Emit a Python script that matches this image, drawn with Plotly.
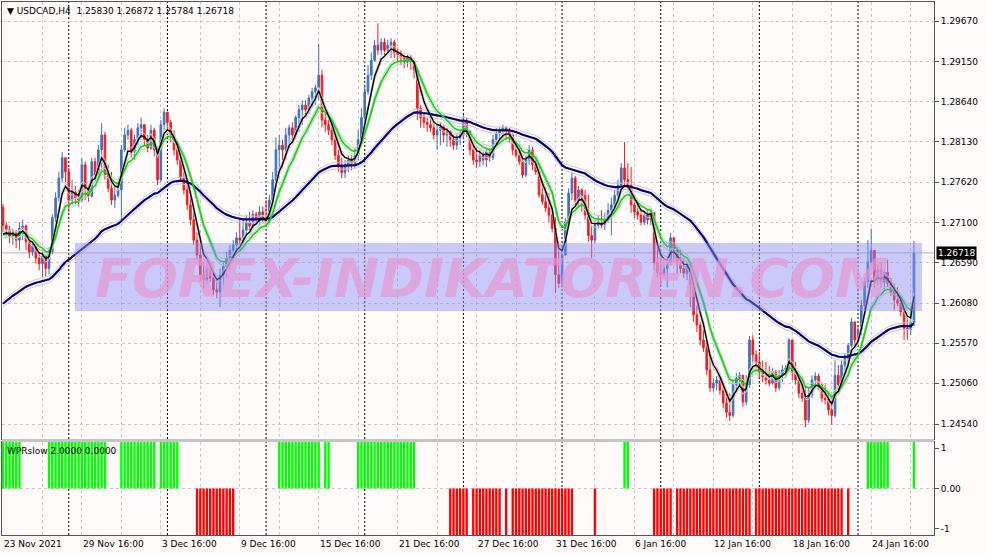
import plotly.graph_objects as go

# ---------------- data (USDCAD H4) ----------------
OPEN_FIRST = 1.2730
CLOSE = [
    1.2707, 1.2701, 1.2693, 1.2698, 1.2688, 1.2703, 1.2706, 1.2686, 1.2673, 1.2680,
    1.2665, 1.2658, 1.2668, 1.2652, 1.2673, 1.2717, 1.2742, 1.2767, 1.2793, 1.2775,
    1.2739, 1.2749, 1.2742, 1.2739, 1.2784, 1.2754, 1.2744, 1.2788, 1.2771, 1.2803,
    1.2822, 1.2771, 1.2754, 1.2739, 1.2745, 1.2752, 1.2803, 1.2822, 1.2828, 1.2800,
    1.2816, 1.2831, 1.2835, 1.2816, 1.2805, 1.2828, 1.2803, 1.2765, 1.2835, 1.2851,
    1.2838, 1.2822, 1.2803, 1.2790, 1.2767, 1.2752, 1.2733, 1.2714, 1.2688, 1.2669,
    1.2644, 1.2637, 1.2652, 1.2640, 1.2625, 1.2622, 1.2644, 1.2655, 1.2665, 1.2675,
    1.2682, 1.2691, 1.2688, 1.2701, 1.2711, 1.2706, 1.2721, 1.2714, 1.2724, 1.2716,
    1.2711, 1.2739, 1.2765, 1.2803, 1.2809, 1.2803, 1.2822, 1.2831, 1.2822, 1.2844,
    1.2854, 1.2860, 1.2854, 1.2869, 1.2877, 1.2882, 1.2898, 1.2841, 1.2835, 1.2828,
    1.2816, 1.2796, 1.2784, 1.2774, 1.2784, 1.2790, 1.2786, 1.2796, 1.2816, 1.2844,
    1.2877, 1.2898, 1.2917, 1.2936, 1.2930, 1.2940, 1.2930, 1.2936, 1.2940, 1.2927,
    1.2924, 1.2920, 1.2915, 1.2921, 1.2915, 1.2905, 1.2856, 1.2844, 1.2838, 1.2835,
    1.2831, 1.2822, 1.2828, 1.2832, 1.2822, 1.2826, 1.2816, 1.2809, 1.2818, 1.2822,
    1.2841, 1.2826, 1.2803, 1.2790, 1.2788, 1.2796, 1.2790, 1.2800, 1.2793, 1.2816,
    1.2824, 1.2828, 1.2831, 1.2828, 1.2822, 1.2803, 1.2796, 1.2788, 1.2771, 1.2790,
    1.2803, 1.2784, 1.2775, 1.2746, 1.2737, 1.2729, 1.2720, 1.2703, 1.2644, 1.2633,
    1.2669, 1.2711, 1.2748, 1.2767, 1.2739, 1.2752, 1.2745, 1.2720, 1.2694, 1.2688,
    1.2707, 1.2711, 1.2707, 1.2714, 1.2726, 1.2733, 1.2745, 1.2758, 1.2780, 1.2765,
    1.2758, 1.2733, 1.2724, 1.2720, 1.2711, 1.2720, 1.2714, 1.2723, 1.2660, 1.2647,
    1.2644, 1.2652, 1.2660, 1.2691, 1.2675, 1.2660, 1.2652, 1.2646, 1.2656, 1.2631,
    1.2593, 1.2580, 1.2561, 1.2551, 1.2523, 1.2500, 1.2506, 1.2510, 1.2497, 1.2481,
    1.2469, 1.2465, 1.2504, 1.2512, 1.2516, 1.2482, 1.2504, 1.2561, 1.2542, 1.2533,
    1.2520, 1.2514, 1.2510, 1.2506, 1.2520, 1.2500, 1.2516, 1.2523, 1.2525, 1.2561,
    1.2520, 1.2510, 1.2493, 1.2487, 1.2459, 1.2491, 1.2510, 1.2515, 1.2504, 1.2487,
    1.2485, 1.2472, 1.2465, 1.2516, 1.2504, 1.2529, 1.2538, 1.2554, 1.2584, 1.2561,
    1.2574, 1.2605, 1.2635, 1.2660, 1.2675, 1.2635, 1.2650, 1.2635, 1.2647, 1.2633,
    1.2622, 1.2612, 1.2608, 1.2597, 1.2576, 1.2574, 1.2584, 1.26718,
]
HIGH = [
    1.2734, 1.2711, 1.2706, 1.2703, 1.2701, 1.2711, 1.2714, 1.2708, 1.2688, 1.2684,
    1.2683, 1.2673, 1.2675, 1.2670, 1.2679, 1.2721, 1.2749, 1.2775, 1.2800, 1.2790,
    1.2780, 1.2765, 1.2757, 1.2752, 1.2793, 1.2788, 1.2758, 1.2793, 1.2793, 1.2809,
    1.2837, 1.2826, 1.2784, 1.2775, 1.2758, 1.2760, 1.2809, 1.2831, 1.2835, 1.2831,
    1.2822, 1.2837, 1.2844, 1.2836, 1.2822, 1.2835, 1.2831, 1.2805, 1.2841, 1.2856,
    1.2851, 1.2841, 1.2828, 1.2809, 1.2800, 1.2775, 1.2762, 1.2752, 1.2726, 1.2698,
    1.2688, 1.2660, 1.2660, 1.2660, 1.2650, 1.2637, 1.2652, 1.2660, 1.2673, 1.2682,
    1.2688, 1.2698, 1.2716, 1.2716, 1.2720, 1.2724, 1.2726, 1.2724, 1.2731, 1.2731,
    1.2739, 1.2746, 1.2775, 1.2819, 1.2822, 1.2816, 1.2831, 1.2835, 1.2838, 1.2847,
    1.2860, 1.2866, 1.2866, 1.2873, 1.2882, 1.2886, 1.2938, 1.2905, 1.2851, 1.2847,
    1.2838, 1.2822, 1.2803, 1.2793, 1.2790, 1.2796, 1.2796, 1.2805, 1.2828, 1.2856,
    1.2886, 1.2911, 1.2927, 1.2943, 1.2964, 1.2945, 1.2945, 1.2943, 1.2945, 1.2943,
    1.2933, 1.2930, 1.2924, 1.2924, 1.2924, 1.2917, 1.2907, 1.2860, 1.2851, 1.2844,
    1.2850, 1.2838, 1.2835, 1.2838, 1.2835, 1.2831, 1.2828, 1.2822, 1.2823, 1.2828,
    1.2847, 1.2844, 1.2828, 1.2809, 1.2805, 1.2803, 1.2800, 1.2805, 1.2805, 1.2822,
    1.2831, 1.2832, 1.2835, 1.2833, 1.2831, 1.2824, 1.2809, 1.2803, 1.2794, 1.2796,
    1.2809, 1.2807, 1.2794, 1.2786, 1.2765, 1.2756, 1.2748, 1.2730, 1.2717, 1.2678,
    1.2682, 1.2716, 1.2754, 1.2775, 1.2770, 1.2757, 1.2754, 1.2752, 1.2746, 1.2707,
    1.2714, 1.2720, 1.2726, 1.2723, 1.2735, 1.2742, 1.2752, 1.2765, 1.2786, 1.2813,
    1.2786, 1.2781, 1.2746, 1.2735, 1.2726, 1.2726, 1.2726, 1.2726, 1.2724, 1.2679,
    1.2669, 1.2660, 1.2666, 1.2697, 1.2691, 1.2679, 1.2675, 1.2665, 1.2660, 1.2656,
    1.2635, 1.2605, 1.2584, 1.2574, 1.2561, 1.2546, 1.2512, 1.2515, 1.2512, 1.2504,
    1.2497, 1.2493, 1.2510, 1.2519, 1.2520, 1.2516, 1.2516, 1.2566, 1.2567, 1.2548,
    1.2546, 1.2535, 1.2533, 1.2528, 1.2525, 1.2523, 1.2523, 1.2529, 1.2529, 1.2563,
    1.2561, 1.2533, 1.2516, 1.2506, 1.2501, 1.2500, 1.2516, 1.2520, 1.2518, 1.2507,
    1.2504, 1.2493, 1.2485, 1.2535, 1.2529, 1.2535, 1.2544, 1.2557, 1.2589, 1.2584,
    1.2580, 1.2612, 1.2640, 1.2688, 1.2703, 1.2675, 1.2656, 1.2660, 1.2652, 1.2663,
    1.2640, 1.2633, 1.2628, 1.2614, 1.2599, 1.2589, 1.2602, 1.26872,
]
LOW = [
    1.2698, 1.2693, 1.2684, 1.2682, 1.2678, 1.2675, 1.2688, 1.2675, 1.2665, 1.2668,
    1.2658, 1.2650, 1.2641, 1.2642, 1.2645, 1.2670, 1.2711, 1.2737, 1.2762, 1.2762,
    1.2724, 1.2733, 1.2734, 1.2731, 1.2737, 1.2739, 1.2737, 1.2742, 1.2765, 1.2765,
    1.2777, 1.2765, 1.2749, 1.2733, 1.2729, 1.2742, 1.2711, 1.2800, 1.2816, 1.2793,
    1.2790, 1.2809, 1.2818, 1.2808, 1.2800, 1.2803, 1.2795, 1.2758, 1.2762, 1.2828,
    1.2828, 1.2813, 1.2796, 1.2784, 1.2762, 1.2746, 1.2726, 1.2707, 1.2682, 1.2663,
    1.2635, 1.2627, 1.2632, 1.2635, 1.2618, 1.2614, 1.2603, 1.2631, 1.2640, 1.2650,
    1.2660, 1.2673, 1.2682, 1.2686, 1.2694, 1.2701, 1.2703, 1.2708, 1.2708, 1.2711,
    1.2707, 1.2711, 1.2733, 1.2762, 1.2775, 1.2780, 1.2790, 1.2805, 1.2816, 1.2816,
    1.2826, 1.2835, 1.2847, 1.2849, 1.2856, 1.2860, 1.2866, 1.2832, 1.2826, 1.2822,
    1.2809, 1.2790, 1.2775, 1.2767, 1.2767, 1.2775, 1.2777, 1.2780, 1.2790, 1.2809,
    1.2838, 1.2873, 1.2892, 1.2915, 1.2924, 1.2924, 1.2924, 1.2926, 1.2920, 1.2920,
    1.2914, 1.2911, 1.2907, 1.2908, 1.2905, 1.2894, 1.2841, 1.2831, 1.2831, 1.2826,
    1.2826, 1.2816, 1.2803, 1.2809, 1.2812, 1.2807, 1.2807, 1.2803, 1.2803, 1.2809,
    1.2816, 1.2819, 1.2796, 1.2784, 1.2780, 1.2781, 1.2784, 1.2781, 1.2788, 1.2790,
    1.2809, 1.2816, 1.2818, 1.2816, 1.2812, 1.2796, 1.2793, 1.2784, 1.2767, 1.2768,
    1.2784, 1.2777, 1.2771, 1.2742, 1.2733, 1.2724, 1.2711, 1.2698, 1.2621, 1.2627,
    1.2628, 1.2669, 1.2707, 1.2739, 1.2733, 1.2730, 1.2724, 1.2714, 1.2686, 1.2665,
    1.2684, 1.2703, 1.2703, 1.2701, 1.2711, 1.2694, 1.2726, 1.2742, 1.2752, 1.2758,
    1.2752, 1.2723, 1.2716, 1.2714, 1.2707, 1.2707, 1.2708, 1.2707, 1.2650, 1.2640,
    1.2631, 1.2640, 1.2628, 1.2656, 1.2660, 1.2646, 1.2646, 1.2640, 1.2637, 1.2603,
    1.2584, 1.2571, 1.2554, 1.2546, 1.2516, 1.2495, 1.2495, 1.2497, 1.2491, 1.2474,
    1.2462, 1.2458, 1.2462, 1.2495, 1.2504, 1.2476, 1.2478, 1.2500, 1.2533, 1.2525,
    1.2512, 1.2507, 1.2504, 1.2502, 1.2504, 1.2495, 1.2497, 1.2507, 1.2513, 1.2520,
    1.2510, 1.2504, 1.2487, 1.2482, 1.2450, 1.2455, 1.2487, 1.2500, 1.2497, 1.2482,
    1.2479, 1.2465, 1.2453, 1.2462, 1.2497, 1.2500, 1.2523, 1.2526, 1.2551, 1.2554,
    1.2554, 1.2567, 1.2596, 1.2627, 1.2656, 1.2627, 1.2630, 1.2627, 1.2625, 1.2628,
    1.2617, 1.2599, 1.2604, 1.2591, 1.2561, 1.2561, 1.2567, 1.25784,
]
LAST_OPEN = 1.25830
LAST_CLOSE = 1.26718

PRICE_TICKS = [1.24540, 1.25060, 1.25570, 1.26080, 1.26590, 1.27100,
               1.27620, 1.28130, 1.28640, 1.29150, 1.29670]
DATE_LABELS = ["23 Nov 2021", "29 Nov 16:00", "3 Dec 16:00", "9 Dec 16:00",
               "15 Dec 16:00", "21 Dec 16:00", "27 Dec 16:00", "31 Dec 16:00",
               "6 Jan 16:00", "12 Jan 16:00", "18 Jan 16:00", "24 Jan 16:00"]
BARS_PER_LABEL = 24
BARS_PER_GRID = 12
WEEK_STARTS = [20, 50, 80, 110, 140, 170, 200, 230, 260]

# WPRslow histogram state runs: (first bar, last bar, value)
WPR_RUNS = [(0, 5, 1), (14, 31, 1), (36, 46, 1), (48, 53, 1), (59, 70, -1),
            (84, 96, 1), (98, 99, 1), (108, 125, 1), (136, 141, -1), (143, 151, -1),
            (153, 153, -1), (155, 173, -1), (180, 180, -1), (189, 190, 1),
            (198, 203, -1), (205, 227, -1), (229, 255, -1), (257, 257, -1),
            (263, 269, 1), (277, 277, 1)]
WPR_TICKS = ["1", "0.00", "-1"]

MA_PERIODS = {"fast": 5, "mid": 10, "slow": 50}
MA_SEEDS = {"fast": 1.2690, "mid": 1.2692, "slow": 1.2603}

# ---------------- derived ----------------
n = len(CLOSE)
idx = list(range(n))
OPEN = [OPEN_FIRST] + CLOSE[:-1]
OPEN[-1] = LAST_OPEN


def ema(values, period, seed):
    a = 2.0 / (period + 1)
    e = seed
    out = []
    for v in values:
        e = e + a * (v - e)
        out.append(e)
    return out


wpr = [0] * n
for a, b, v in WPR_RUNS:
    for i in range(a, b + 1):
        wpr[i] = v
wpr_colors = ["#00ff00" if v > 0 else "#ff0000" for v in wpr]

BG = "#fffbfa"
BLUE = "#3f70c2"
RED = "#f41c1c"
FONT = "DejaVu Sans"

fig = go.Figure()

fig.add_trace(go.Candlestick(
    x=idx, open=OPEN, high=HIGH, low=LOW, close=CLOSE,
    increasing=dict(line=dict(color=BLUE, width=1), fillcolor=BLUE),
    decreasing=dict(line=dict(color=RED, width=1), fillcolor=RED),
    whiskerwidth=0, xaxis="x", yaxis="y", hoverinfo="skip"))

ma_styles = [("slow", "#000080", 2.2), ("mid", "#00dd00", 1.6), ("fast", "#000000", 1.4)]
OFF = 0.00042
for key, col, w in ma_styles:
    m = ema(CLOSE, MA_PERIODS[key], MA_SEEDS[key])
    for sgn in (1, -1):
        fig.add_trace(go.Scatter(x=idx, y=[v + sgn * OFF for v in m], mode="lines",
                                 line=dict(color="#c9c9c9", width=1),
                                 xaxis="x", yaxis="y", hoverinfo="skip"))
for key, col, w in ma_styles:
    m = ema(CLOSE, MA_PERIODS[key], MA_SEEDS[key])
    fig.add_trace(go.Scatter(x=idx, y=m, mode="lines", line=dict(color=col, width=w),
                             xaxis="x", yaxis="y", hoverinfo="skip"))

fig.add_trace(go.Bar(x=idx, y=wpr, marker=dict(color=wpr_colors, line=dict(width=0)),
                     width=0.72, xaxis="x2", yaxis="y2", hoverinfo="skip"))

grid_vals = list(range(0, n + 6, BARS_PER_GRID))
xcommon = dict(range=[-0.3, 283.1], tickvals=grid_vals, showticklabels=False,
               showgrid=True, gridcolor="#c8c8c8", griddash="3px,3px", gridwidth=1,
               zeroline=False, showline=True, mirror=True, linecolor="#555555",
               linewidth=1, ticks="", fixedrange=True)

MAIN_BOTTOM = 0.1801
SUB_TOP = 0.1745

fig.update_layout(
    width=987, height=555,
    margin=dict(l=2, r=53, t=2, b=20),
    paper_bgcolor=BG, plot_bgcolor=BG,
    showlegend=False, hovermode=False,
    font=dict(family=FONT, size=9, color="#000000"),
    xaxis=dict(anchor="y", domain=[0, 1], rangeslider=dict(visible=False), **xcommon),
    xaxis2=dict(anchor="y2", domain=[0, 1], matches="x", **xcommon),
    yaxis=dict(domain=[MAIN_BOTTOM, 1], range=[1.24349, 1.29912], side="right",
               tickvals=PRICE_TICKS, ticktext=[f"{v:.5f}" for v in PRICE_TICKS],
               ticks="outside", ticklen=4, tickcolor="#555555",
               showgrid=True, gridcolor="#c8c8c8", griddash="3px,3px",
               zeroline=False, showline=True, mirror=True, linecolor="#555555",
               tickfont=dict(family=FONT, size=9, color="#000000"), fixedrange=True),
    yaxis2=dict(domain=[0, SUB_TOP], range=[-1, 1], side="right",
                tickvals=[0.87, 0, -0.87], ticktext=WPR_TICKS,
                ticks="outside", ticklen=4, tickcolor="#555555",
                showgrid=False, zeroline=False, showline=True, mirror=True,
                linecolor="#555555",
                tickfont=dict(family=FONT, size=9, color="#000000"), fixedrange=True),
    bargap=0.25,
)

shapes = []
# gap strip between panels
shapes.append(dict(type="rect", xref="paper", yref="paper", x0=0, x1=1,
                   y0=SUB_TOP, y1=MAIN_BOTTOM, fillcolor="#c4c4c4",
                   line=dict(width=0), layer="above"))
# weekly period separators
for w in WEEK_STARTS:
    shapes.append(dict(type="line", xref="x", yref="paper", x0=w, x1=w, y0=0, y1=1,
                       line=dict(color="#000000", width=1, dash="2px,2px"),
                       layer="between"))
# zero level of the WPR panel
shapes.append(dict(type="line", xref="paper", yref="y2", x0=0, x1=1, y0=0, y1=0,
                   line=dict(color="#c8c8c8", width=1, dash="3px,3px"), layer="between"))
# current price line
shapes.append(dict(type="line", xref="paper", yref="y", x0=0, x1=1,
                   y0=LAST_CLOSE, y1=LAST_CLOSE,
                   line=dict(color="#b4b4b4", width=1), layer="between"))
# watermark band
shapes.append(dict(type="rect", xref="paper", yref="paper", x0=0.0783, x1=0.987,
                   y0=0.4203, y1=0.5478, fillcolor="rgba(140,140,250,0.45)",
                   line=dict(width=0), layer="above"))
fig.update_layout(shapes=shapes)

ann = []
for k, lab in enumerate(DATE_LABELS):
    ann.append(dict(x=k * BARS_PER_LABEL, xref="x2", y=0, yref="paper",
                    yanchor="top", xanchor="left", yshift=-2, xshift=-1,
                    text=lab, showarrow=False,
                    font=dict(family=FONT, size=9, color="#000000")))
ann.append(dict(x=0, xref="paper", y=1, yref="paper", xanchor="left", yanchor="top",
                xshift=3, yshift=-2, showarrow=False,
                text="▼ USDCAD,H4  1.25830 1.26872 1.25784 1.26718",
                font=dict(family=FONT, size=9, color="#000000")))
ann.append(dict(x=0, xref="paper", y=SUB_TOP, yref="paper", xanchor="left",
                yanchor="top", xshift=3, yshift=-2, showarrow=False,
                text="WPRslow 2.0000 0.0000",
                font=dict(family=FONT, size=9, color="#000000")))
ann.append(dict(x=1, xref="paper", y=LAST_CLOSE, yref="y", xanchor="left",
                yanchor="middle", xshift=2, showarrow=False, text="1.26718",
                bgcolor="#000000", borderpad=1,
                font=dict(family=FONT, size=9, color="#ffffff")))
ann.append(dict(x=0.526, xref="paper", y=0.481, yref="paper", xanchor="center",
                yanchor="middle", showarrow=False, text="FOREX-INDIKATOREN.COM",
                font=dict(family=FONT, size=54, color="rgba(228,150,210,0.68)",
                          style="italic", weight="bold")))
fig.update_layout(annotations=ann)

fig.write_html("out.html",
               config={"displayModeBar": False, "staticPlot": True},
               post_script="document.body.style.margin='0px';"
                           "document.body.style.padding='0px';"
                           "document.body.style.overflow='hidden';")
